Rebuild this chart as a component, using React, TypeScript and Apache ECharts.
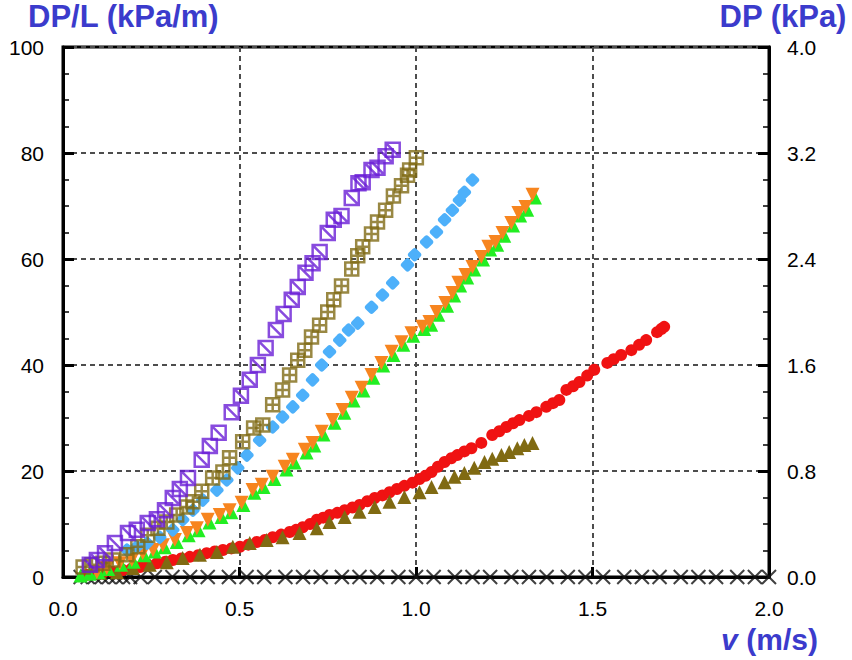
import React, { useEffect, useRef } from "react";
import * as echarts from "echarts";

// ---- data: [v (m/s), DP/L (kPa/m)] ----
const purpleSquares: number[][] = [
  [0.076, 2.3], [0.096, 3.2], [0.119, 4.5], [0.147, 6.4], [0.184, 8.3], [0.209, 8.9],
  [0.24, 10.2], [0.266, 10.9], [0.289, 12.6], [0.311, 14.9], [0.331, 16.6], [0.354, 18.7],
  [0.393, 22.1], [0.416, 24.7], [0.441, 27.2], [0.478, 31.1], [0.504, 34.2], [0.529, 37.2],
  [0.552, 40.0], [0.574, 43.2], [0.603, 46.6], [0.625, 49.6], [0.648, 52.3], [0.665, 54.7],
  [0.687, 57.4], [0.707, 59.2], [0.727, 61.3], [0.75, 64.9], [0.767, 67.4], [0.789, 68.1],
  [0.818, 71.5], [0.837, 74.3], [0.849, 74.5], [0.874, 76.8], [0.891, 77.2], [0.914, 79.4],
  [0.934, 80.6],
];
const oliveSquares: number[][] = [
  [0.057, 1.9], [0.082, 2.3], [0.113, 2.6], [0.141, 3.2], [0.181, 4.2], [0.212, 5.7],
  [0.24, 7.9], [0.269, 9.2], [0.294, 10.4], [0.322, 11.7], [0.351, 13.2], [0.368, 14.2],
  [0.393, 16.2], [0.424, 18.7], [0.453, 19.8], [0.472, 22.5], [0.509, 25.5], [0.54, 28.1],
  [0.566, 28.7], [0.594, 32.5], [0.622, 35.3], [0.642, 38.1], [0.665, 40.9], [0.685, 42.8],
  [0.704, 45.3], [0.727, 47.5], [0.75, 50.0], [0.767, 52.3], [0.789, 54.9], [0.818, 58.1],
  [0.835, 60.6], [0.849, 62.3], [0.874, 64.7], [0.891, 67.0], [0.914, 69.2], [0.936, 71.9],
  [0.959, 73.8], [0.976, 75.8], [0.982, 76.8], [1.001, 79.1],
];
const blueDiamonds: number[][] = [
  [0.181, 5.1], [0.209, 5.7], [0.238, 6.4], [0.274, 7.5], [0.311, 8.9], [0.339, 10.8],
  [0.368, 12.6], [0.396, 14.5], [0.436, 16.4], [0.464, 18.3], [0.495, 20.6], [0.521, 23.0],
  [0.557, 25.8], [0.594, 28.3], [0.622, 30.2], [0.651, 32.1], [0.679, 34.3], [0.707, 37.2],
  [0.733, 40.0], [0.755, 42.5], [0.784, 44.7], [0.809, 46.6], [0.835, 47.9], [0.874, 50.9],
  [0.905, 53.2], [0.934, 55.5], [0.976, 58.9], [0.996, 60.8], [1.03, 63.2], [1.058, 65.1],
  [1.081, 67.4], [1.103, 69.2], [1.123, 71.1], [1.137, 72.6], [1.16, 74.9],
];
const orangeTriangles: number[][] = [
  [0.096, 0.9], [0.124, 1.7], [0.161, 2.6], [0.195, 3.2], [0.226, 4.5], [0.255, 5.1],
  [0.283, 6.0], [0.317, 7.0], [0.351, 8.3], [0.379, 9.2], [0.41, 10.8], [0.444, 11.7],
  [0.472, 12.6], [0.506, 14.0], [0.537, 16.4], [0.563, 17.4], [0.594, 18.9], [0.628, 20.8],
  [0.651, 22.1], [0.685, 24.0], [0.707, 25.3], [0.733, 27.4], [0.764, 29.6], [0.792, 31.5],
  [0.818, 33.8], [0.846, 35.7], [0.874, 38.1], [0.902, 40.4], [0.931, 42.5], [0.959, 44.3],
  [0.987, 46.0], [1.018, 47.2], [1.038, 48.1], [1.058, 50.0], [1.083, 51.7], [1.103, 53.6],
  [1.12, 55.5], [1.14, 57.0], [1.16, 58.5], [1.185, 60.4], [1.205, 62.3], [1.225, 63.2],
  [1.245, 64.9], [1.27, 66.8], [1.29, 68.7], [1.31, 69.8], [1.33, 72.1],
];
const greenTriangles: number[][] = [
  [0.05, 0.3], [0.075, 0.6], [0.1, 0.9], [0.128, 1.5], [0.165, 2.3], [0.2, 2.9],
  [0.23, 4.1], [0.26, 4.8], [0.288, 5.6], [0.322, 6.6], [0.356, 7.9], [0.384, 8.8],
  [0.415, 10.3], [0.449, 11.3], [0.477, 12.2], [0.511, 13.6], [0.542, 15.9], [0.568, 17.0],
  [0.599, 18.5], [0.633, 20.3], [0.656, 21.6], [0.69, 23.5], [0.712, 24.8], [0.738, 26.9],
  [0.769, 29.1], [0.797, 31.0], [0.823, 33.3], [0.851, 35.2], [0.879, 37.6], [0.907, 39.9],
  [0.936, 41.9], [0.964, 43.8], [0.992, 45.5], [1.023, 46.8], [1.043, 47.6], [1.063, 49.5],
  [1.088, 51.2], [1.108, 53.1], [1.125, 55.0], [1.145, 56.5], [1.165, 58.0], [1.19, 59.9],
  [1.21, 61.8], [1.23, 62.7], [1.25, 64.4], [1.275, 66.3], [1.295, 68.2], [1.315, 69.3],
  [1.337, 71.6],
];
const redCircles: number[][] = [
  [0.068, 0.4], [0.09, 0.6], [0.113, 0.8], [0.14, 1.0], [0.17, 1.3], [0.195, 1.6],
  [0.218, 1.9], [0.242, 2.2], [0.266, 2.6], [0.29, 2.9], [0.311, 3.2], [0.335, 3.5],
  [0.359, 3.8], [0.383, 4.1], [0.407, 4.5], [0.43, 4.8], [0.453, 5.1], [0.477, 5.4],
  [0.501, 5.7], [0.525, 6.1], [0.549, 6.6], [0.572, 7.0], [0.594, 7.5], [0.618, 8.0],
  [0.642, 8.5], [0.66, 8.9], [0.679, 9.4], [0.7, 10.0], [0.719, 10.8], [0.737, 11.2],
  [0.755, 11.7], [0.777, 12.1], [0.798, 12.6], [0.82, 13.1], [0.84, 13.6], [0.862, 14.3],
  [0.883, 14.9], [0.905, 15.4], [0.925, 16.0], [0.946, 16.6], [0.967, 17.2], [0.99, 17.8],
  [1.01, 18.5], [1.027, 19.1], [1.044, 19.8], [1.062, 20.8], [1.081, 21.7], [1.1, 22.4],
  [1.117, 23.0], [1.137, 23.7], [1.157, 24.3], [1.185, 25.3], [1.216, 26.8], [1.236, 27.5],
  [1.256, 28.3], [1.275, 29.0], [1.293, 29.6], [1.32, 30.4], [1.341, 31.1], [1.369, 32.1],
  [1.388, 32.8], [1.406, 33.4], [1.426, 35.3], [1.445, 36.0], [1.463, 36.8], [1.485, 38.0],
  [1.505, 39.1], [1.542, 40.4], [1.56, 41.1], [1.581, 41.9], [1.61, 42.8], [1.632, 43.8],
  [1.652, 44.7], [1.683, 46.2], [1.695, 46.8], [1.703, 47.2],
];
const oliveTriangles: number[][] = [
  [0.105, 0.8], [0.153, 0.9], [0.198, 1.7], [0.246, 2.3], [0.294, 2.8], [0.339, 3.6],
  [0.388, 4.2], [0.436, 4.7], [0.481, 5.7], [0.529, 6.4], [0.577, 7.0], [0.622, 7.5],
  [0.67, 8.3], [0.719, 9.2], [0.755, 10.4], [0.798, 11.3], [0.84, 12.3], [0.883, 13.2],
  [0.925, 14.2], [0.967, 15.1], [1.01, 16.0], [1.044, 17.0], [1.081, 17.9], [1.109, 18.9],
  [1.137, 19.6], [1.165, 20.6], [1.194, 21.7], [1.216, 22.3], [1.242, 23.0], [1.264, 23.6],
  [1.287, 24.3], [1.307, 24.9], [1.33, 25.3],
];
const blackCrossV: number[] = [
  0.05, 0.07, 0.09, 0.11, 0.13, 0.15, 0.17, 0.19, 0.22, 0.26, 0.31, 0.36, 0.41, 0.47,
  0.52, 0.57, 0.63, 0.68, 0.73, 0.79, 0.84, 0.89, 0.95, 1.0, 1.05, 1.11, 1.16, 1.21,
  1.27, 1.32, 1.37, 1.43, 1.48, 1.53, 1.59, 1.64, 1.69, 1.75, 1.8, 1.85, 1.91, 1.96, 2.0,
];
const blackCrossDP: number[] = blackCrossV.map(() => 0);

const leftTitle = "DP/L (kPa/m)";
const rightTitle = "DP (kPa)";
const xTitleItalic = "v";
const xTitleRest = " (m/s)";

const FONT = "Liberation Sans, Arial, sans-serif";
const TITLE_COLOR = "#3b3bcc";

export default function App() {
  const ref = useRef<HTMLDivElement>(null);
  useEffect(() => {
    if (!ref.current) return;
    const chart = echarts.init(ref.current, undefined, { renderer: "svg" });
    const tickLabel = { fontSize: 21, color: "#000", fontFamily: FONT };
    const split = { show: true, lineStyle: { color: "#4d4d4d", width: 2, type: [5, 4] as number[] } };
    const hollow = (color: string, path: string, size: number, data: number[][]) => ({
      type: "scatter",
      data,
      symbol: path,
      symbolSize: size,
      clip: false,
      itemStyle: { color: "rgba(0,0,0,0)", borderColor: color, borderWidth: 2.5 },
    });
    const filled = (color: string, symbol: string, size: number, data: number[][], rotate = 0) => ({
      type: "scatter",
      data,
      symbol,
      symbolSize: size,
      symbolRotate: rotate,
      clip: false,
      itemStyle: { color, opacity: 1 },
    });
    chart.setOption({
      animation: false,
      backgroundColor: "#fff",
      grid: {
        left: 63, right: 83, top: 47, bottom: 83,
        show: true, borderColor: "#000", borderWidth: 3, backgroundColor: "transparent",
      },
      xAxis: {
        type: "value", min: 0, max: 2, interval: 0.5,
        axisLine: { show: true, onZero: false, lineStyle: { color: "#000", width: 3 } },
        axisTick: { show: true, inside: true, length: 10, lineStyle: { color: "#000", width: 3 } },
        axisLabel: { ...tickLabel, margin: 21, formatter: (v: number) => v.toFixed(1) },
        splitLine: split,
      },
      yAxis: [
        {
          type: "value", min: 0, max: 100, interval: 20,
          axisLine: { show: true, lineStyle: { color: "#000", width: 3 } },
          axisTick: { show: true, inside: true, length: 11, lineStyle: { color: "#000", width: 3 } },
          minorTick: { show: true, splitNumber: 4, length: 6, lineStyle: { color: "#000", width: 1.5 } },
          axisLabel: { ...tickLabel, margin: 19, formatter: (v: number) => String(Math.round(v)) },
          splitLine: split,
        },
        {
          type: "value", min: 0, max: 4, interval: 0.8, position: "right",
          axisLine: { show: true, lineStyle: { color: "#000", width: 3 } },
          axisTick: { show: true, inside: true, length: 11, lineStyle: { color: "#000", width: 3 } },
          minorTick: { show: true, splitNumber: 4, length: 6, lineStyle: { color: "#000", width: 1.5 } },
          axisLabel: { ...tickLabel, margin: 18, formatter: (v: number) => v.toFixed(1) },
          splitLine: { show: false },
        },
      ],
      graphic: [
        { type: "text", left: 28, top: 1, style: { text: leftTitle, fill: TITLE_COLOR, font: `bold 31px ${FONT}` } },
        { type: "text", right: 5, top: 1, style: { text: rightTitle, fill: TITLE_COLOR, font: `bold 31px ${FONT}` } },
        { type: "text", left: 721, top: 624, style: { text: xTitleItalic, fill: TITLE_COLOR, font: `italic bold 30px ${FONT}` } },
        { type: "text", left: 738, top: 624, style: { text: xTitleRest, fill: TITLE_COLOR, font: `bold 30px ${FONT}` } },
      ],
      series: [
        {
          type: "scatter",
          data: blackCrossV.map((v, i) => [v, blackCrossDP[i]]),
          symbol: "path://M0,0L10,10M10,0L0,10",
          symbolSize: 14,
          clip: false,
          itemStyle: { color: "rgba(0,0,0,0)", borderColor: "#111", borderWidth: 2 },
        },
        filled("#f01212", "circle", 12, redCircles),
        filled("#806a12", "triangle", 14, oliveTriangles),
        filled("#22ee22", "triangle", 14, greenTriangles),
        filled("#f7851f", "triangle", 14, orangeTriangles, 180),
        filled("#4db0fa", "roundRect", 11, blueDiamonds, 45),
        hollow("#7f6a14", "path://M0,0H10V10H0ZM5,0V10M0,5H10", 13, oliveSquares),
        hollow("#6a1ed6", "path://M0,0H10V10H0ZM0,0L10,10", 14, purpleSquares),
      ],
    });
    return () => chart.dispose();
  }, []);
  return <div ref={ref} style={{ position: "fixed", left: 0, top: 0, width: 852, height: 660 }} />;
}
